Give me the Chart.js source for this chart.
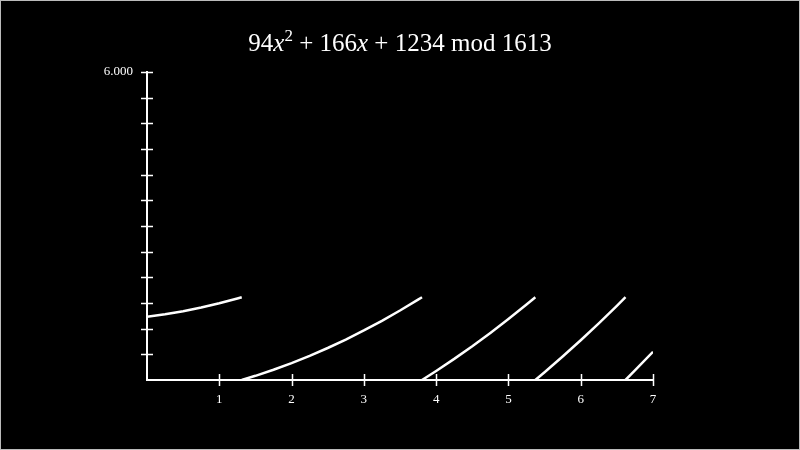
<!DOCTYPE html>
<html>
<head>
<meta charset="utf-8">
<script src="https://cdn.jsdelivr.net/npm/chart.js@4"></script>
<style>
  html, body { margin: 0; padding: 0; background: #000; }
  #wrap { width: 800px; height: 450px; }
</style>
</head>
<body>
<div id="wrap"><canvas id="myChart" width="800" height="450"></canvas></div>
<script>
// valores (x, f(x) mod 1613), null = quebra da curva
const xValores = [0, 0.25, 0.5, 0.75, 1, 1.25, 1.3106, 1.3106, 1.3106,
  1.5, 1.75, 2, 2.25, 2.5, 2.75, 3, 3.25, 3.5, 3.75, 3.8044, 3.8044, 3.8044,
  4, 4.25, 4.5, 4.75, 5, 5.25, 5.3725, 5.3725, 5.3725,
  5.5, 5.75, 6, 6.25, 6.5, 6.6197, 6.6197, 6.6197,
  6.75, 7];
const yValores = [1234, 1281.4, 1340.5, 1411.4, 1494, 1588.4, 1613, null, 0,
  81.5, 199.4, 329, 470.4, 623.5, 788.4, 965, 1153.4, 1353.5, 1565.4, 1613, null, 0,
  176, 411.4, 658.5, 917.4, 1188, 1470.4, 1613, null, 0,
  151.5, 457.4, 775, 1104.4, 1445.5, 1613, null, 0,
  185.4, 550];
const xTicks = [1, 2, 3, 4, 5, 6, 7];
const yMax = 6000;
const yPasso = 500;

const pontos = xValores.map(function(x, i){ return {x: x, y: yValores[i]}; });

const fonte = "'Liberation Serif', 'DejaVu Serif', serif";

// titulo com x em italico e expoente
const tituloPlugin = {
  id: 'tituloPlugin',
  afterDraw(chart){
    const c = chart.ctx;
    const partes = [
      {t: '94', s: 'normal', sz: 25, dy: 0},
      {t: 'x', s: 'italic', sz: 25, dy: 0},
      {t: '2', s: 'normal', sz: 17, dy: -10},
      {t: ' + 166', s: 'normal', sz: 25, dy: 0},
      {t: 'x', s: 'italic', sz: 25, dy: 0},
      {t: ' + 1234 mod 1613', s: 'normal', sz: 25, dy: 0}
    ];
    c.save();
    c.fillStyle = '#fff';
    c.textBaseline = 'alphabetic';
    let total = 0;
    partes.forEach(function(p){
      c.font = p.s + ' ' + p.sz + 'px ' + fonte;
      p.w = c.measureText(p.t).width;
      total += p.w;
    });
    let x = 400 - total / 2;
    partes.forEach(function(p){
      c.font = p.s + ' ' + p.sz + 'px ' + fonte;
      c.fillText(p.t, x, 51 + p.dy);
      x += p.w;
    });
    // moldura
    c.strokeStyle = '#bbb';
    c.lineWidth = 1;
    c.strokeRect(0.5, 0.5, 799, 449);
    c.restore();
  }
};

// tracinhos cruzando os eixos
const ticksPlugin = {
  id: 'ticksPlugin',
  afterDatasetsDraw(chart){
    const c = chart.ctx;
    const xs = chart.scales.x;
    const ys = chart.scales.y;
    const area = chart.chartArea;
    c.save();
    c.strokeStyle = '#fff';
    c.lineWidth = 1.5;
    c.beginPath();
    for (let v = yPasso; v <= yMax; v += yPasso){
      const py = Math.round(ys.getPixelForValue(v)) + 0.5;
      c.moveTo(area.left - 6, py);
      c.lineTo(area.left + 6, py);
    }
    xTicks.forEach(function(v){
      const px = Math.round(xs.getPixelForValue(v)) + 0.5;
      c.moveTo(px, area.bottom - 6);
      c.lineTo(px, area.bottom + 6);
    });
    c.stroke();
    c.restore();
  }
};

new Chart(document.getElementById('myChart'), {
  type: 'scatter',
  data: {
    datasets: [{
      data: pontos,
      showLine: true,
      spanGaps: false,
      borderColor: '#fff',
      borderWidth: 2.5,
      pointRadius: 0,
      tension: 0
    }]
  },
  options: {
    responsive: false,
    animation: false,
    layout: { padding: { left: 87, right: 147, top: 72, bottom: 30 } },
    plugins: {
      legend: { display: false },
      title: { display: false },
      tooltip: { enabled: false }
    },
    scales: {
      x: {
        type: 'linear',
        min: 0,
        max: 7,
        afterFit: function(s){ s.height = 40; },
        afterBuildTicks: function(s){ s.ticks = xTicks.map(function(v){ return {value: v}; }); },
        ticks: {
          color: '#fff',
          padding: 4,
          font: { family: fonte, size: 13 },
          callback: function(v){ return String(v); }
        },
        grid: { display: false },
        border: { display: true, color: '#fff', width: 2 }
      },
      y: {
        type: 'linear',
        min: 0,
        max: yMax,
        afterFit: function(s){ s.width = 60; },
        ticks: {
          stepSize: yPasso,
          color: '#fff',
          padding: 6,
          font: { family: fonte, size: 13 },
          callback: function(v){ return v === yMax ? '6.000' : ''; }
        },
        grid: { display: false },
        border: { display: true, color: '#fff', width: 2 }
      }
    }
  },
  plugins: [tituloPlugin, ticksPlugin]
});
</script>
</body>
</html>
